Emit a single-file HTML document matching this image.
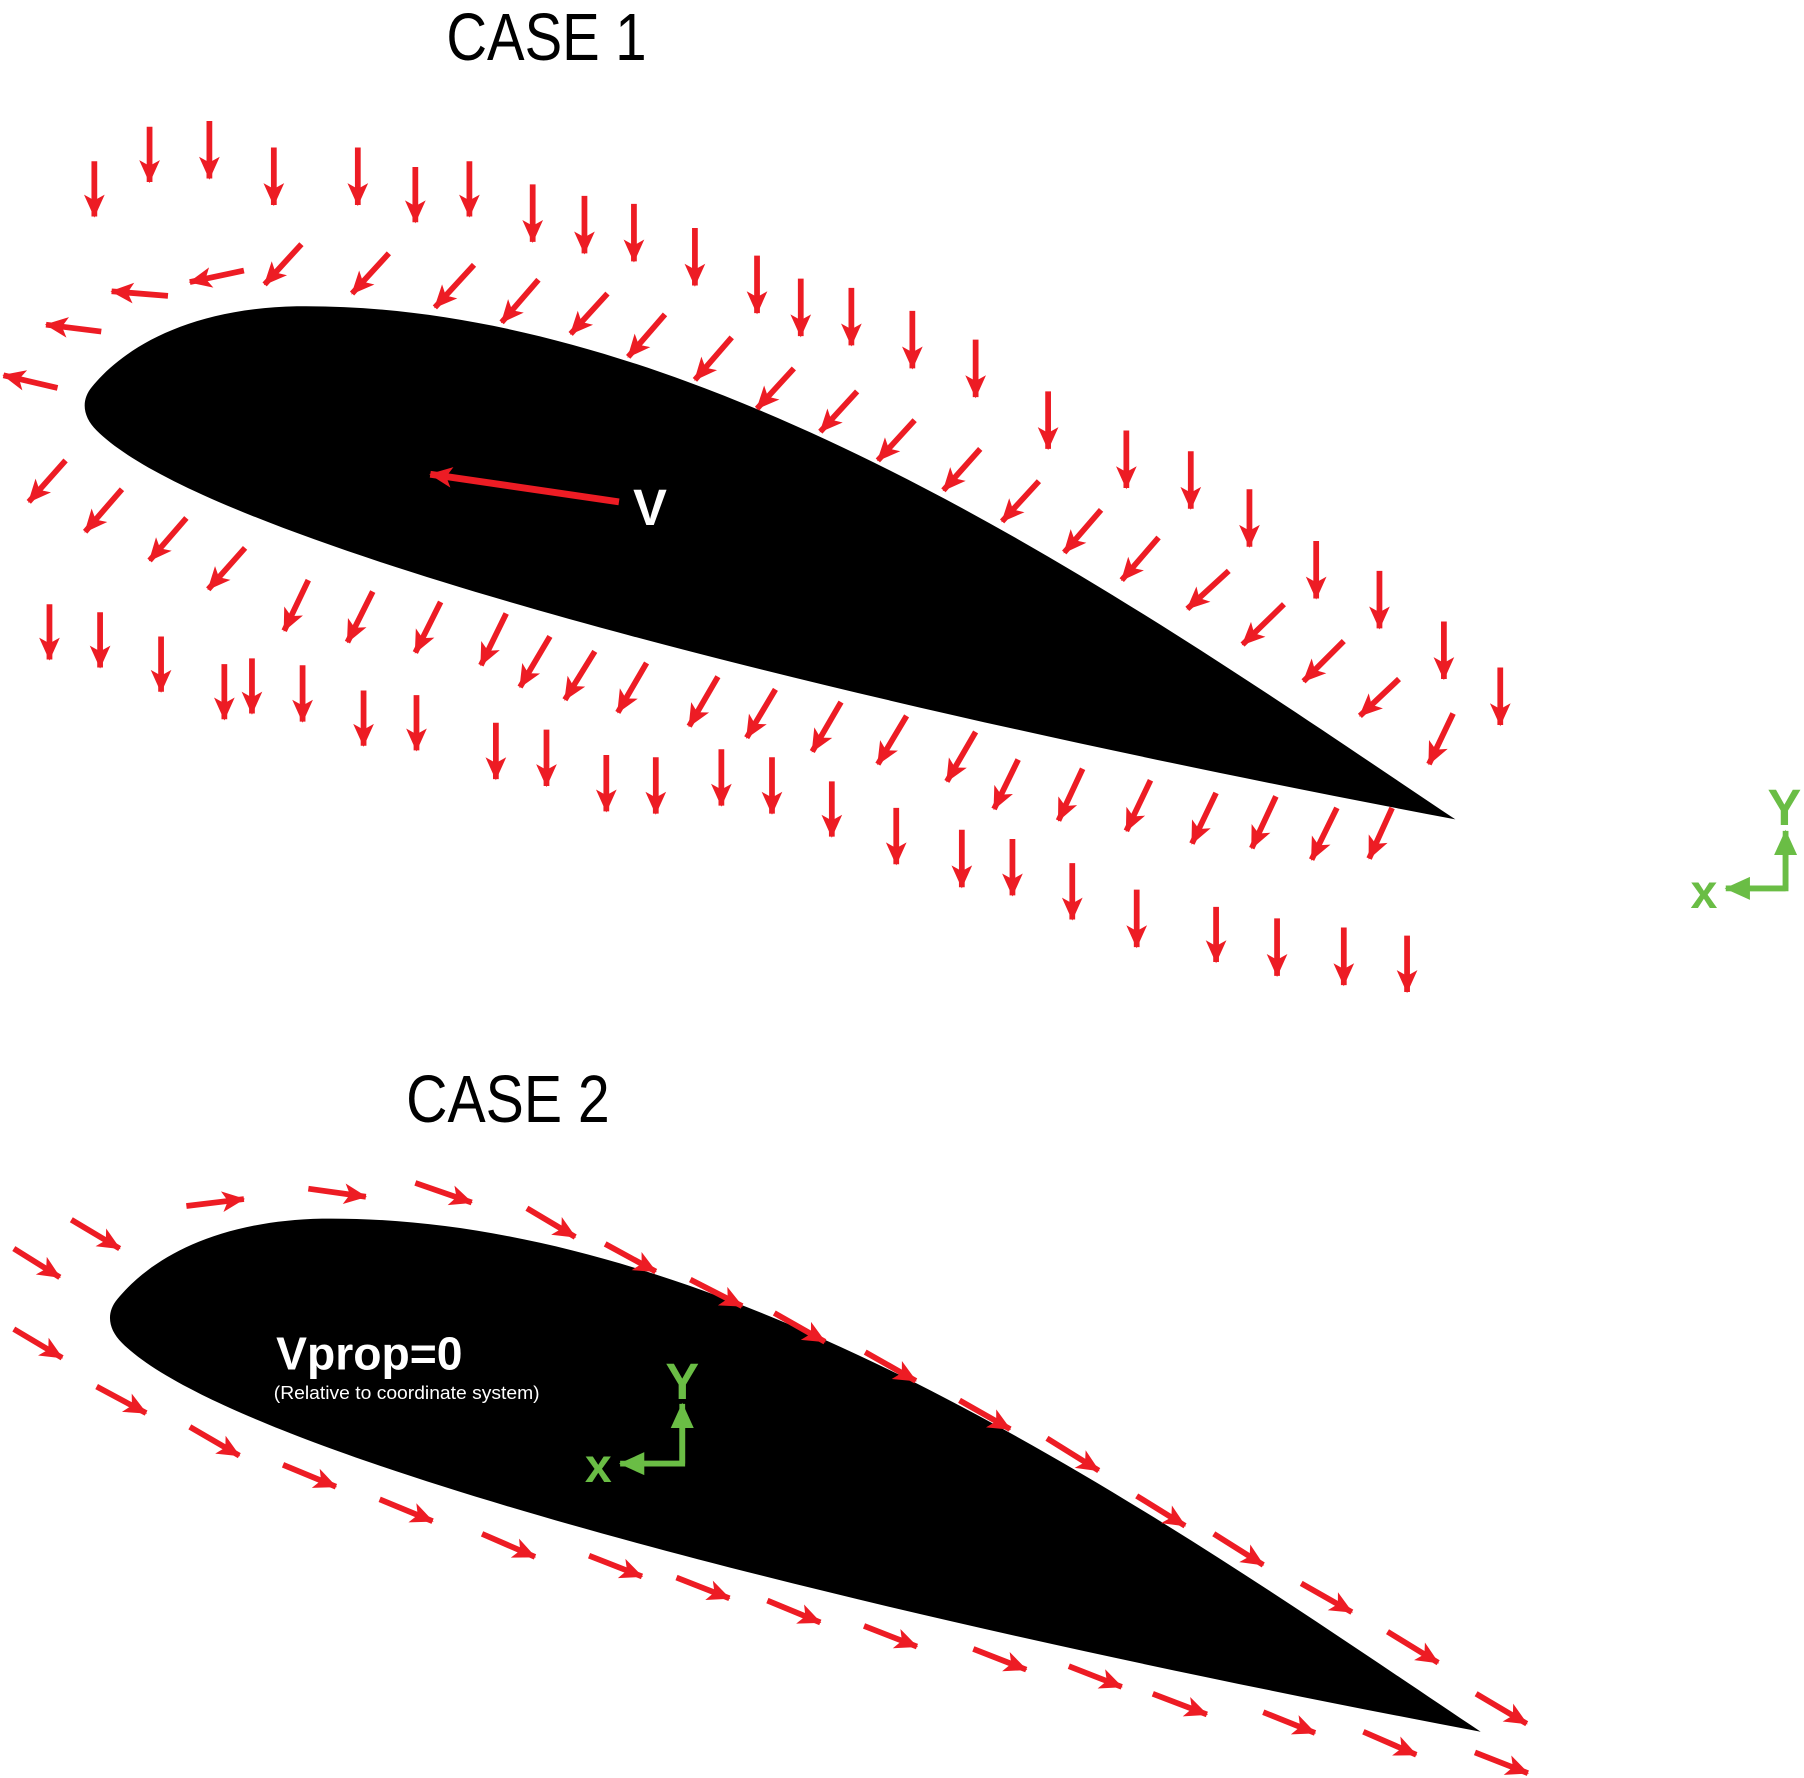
<!DOCTYPE html>
<html><head><meta charset="utf-8"><style>
html,body{margin:0;padding:0;background:#fff;}
svg{display:block;}
</style></head><body>
<svg width="1804" height="1778" viewBox="0 0 1568 1545" xmlns="http://www.w3.org/2000/svg">
<defs>
<marker id="a" markerWidth="24" markerHeight="24" refX="20" refY="12" orient="auto" markerUnits="userSpaceOnUse">
<path d="M1,3 L21,12 L1,21 L6,12 Z" fill="#ed1c24"/></marker>
<marker id="g" markerWidth="24" markerHeight="24" refX="21" refY="12" orient="auto" markerUnits="userSpaceOnUse">
<path d="M0,2 L22,12 L0,22 Z" fill="#6abd45"/></marker>
<path id="foil" d="M1265,712 C1000,535 620,262 258,266 C160,268 105,305 80,336 C70,348 72,362 84,374 C180,470 700,605 1265,712 Z"/>
</defs>
<text x="388" y="52" font-family="Liberation Sans, sans-serif" font-size="58" textLength="174" lengthAdjust="spacingAndGlyphs">CASE 1</text>
<text x="353" y="975" font-family="Liberation Sans, sans-serif" font-size="58" textLength="177" lengthAdjust="spacingAndGlyphs">CASE 2</text>
<use href="#foil"/>
<use href="#foil" transform="translate(22,793)"/>
<g stroke="#ed1c24" stroke-width="5" fill="none" marker-end="url(#a)">
<line x1="82" y1="140" x2="82" y2="188"/><line x1="130" y1="110" x2="130" y2="158"/><line x1="182" y1="105" x2="182" y2="155"/><line x1="238" y1="128" x2="238" y2="178"/><line x1="311" y1="128" x2="311" y2="178"/><line x1="361" y1="145" x2="361" y2="193"/><line x1="408" y1="140" x2="408" y2="188"/><line x1="463" y1="160" x2="463" y2="210"/><line x1="508" y1="170" x2="508" y2="220"/><line x1="551" y1="177" x2="551" y2="227"/><line x1="604" y1="198" x2="604" y2="248"/><line x1="658" y1="222" x2="658" y2="272"/><line x1="696" y1="242" x2="696" y2="292"/><line x1="740" y1="250" x2="740" y2="300"/><line x1="793" y1="270" x2="793" y2="320"/><line x1="848" y1="295" x2="848" y2="345"/><line x1="911" y1="340" x2="911" y2="390"/><line x1="979" y1="374" x2="979" y2="424"/><line x1="1035" y1="392" x2="1035" y2="442"/><line x1="1086" y1="425" x2="1086" y2="475"/><line x1="1144" y1="470" x2="1144" y2="520"/><line x1="1199" y1="496" x2="1199" y2="546"/><line x1="1255" y1="540" x2="1255" y2="590"/><line x1="1304" y1="580" x2="1304" y2="630"/>
<line x1="262" y1="212" x2="230" y2="247"/><line x1="338" y1="220" x2="306" y2="255"/><line x1="412" y1="230" x2="378" y2="267"/><line x1="468" y1="243" x2="436" y2="280"/><line x1="528" y1="255" x2="496" y2="290"/><line x1="578" y1="273" x2="546" y2="310"/><line x1="636" y1="293" x2="604" y2="330"/><line x1="690" y1="320" x2="658" y2="355"/><line x1="745" y1="340" x2="713" y2="375"/><line x1="795" y1="365" x2="763" y2="400"/><line x1="852" y1="390" x2="820" y2="426"/><line x1="903" y1="418" x2="871" y2="453"/><line x1="957" y1="443" x2="925" y2="480"/><line x1="1007" y1="467" x2="975" y2="504"/><line x1="1068" y1="496" x2="1032" y2="529"/><line x1="1116" y1="525" x2="1080" y2="560"/><line x1="1168" y1="557" x2="1133" y2="592"/><line x1="1216" y1="590" x2="1182" y2="622"/>
<line x1="212" y1="235" x2="165" y2="245"/><line x1="146" y1="257" x2="97" y2="253"/><line x1="88" y1="288" x2="40" y2="282"/><line x1="50" y1="337" x2="3" y2="326"/>
<line x1="57" y1="400" x2="25" y2="436"/><line x1="106" y1="425" x2="74" y2="462"/><line x1="162" y1="450" x2="130" y2="487"/><line x1="213" y1="476" x2="181" y2="512"/>
<line x1="268" y1="504" x2="247" y2="548"/><line x1="324" y1="514" x2="302" y2="558"/><line x1="383" y1="523" x2="361" y2="567"/><line x1="440" y1="533" x2="418" y2="578"/><line x1="478" y1="553" x2="452" y2="597"/><line x1="517" y1="566" x2="491" y2="608"/><line x1="562" y1="576" x2="537" y2="619"/><line x1="624" y1="588" x2="599" y2="631"/><line x1="674" y1="599" x2="649" y2="641"/><line x1="731" y1="610" x2="706" y2="653"/><line x1="788" y1="622" x2="763" y2="664"/><line x1="848" y1="636" x2="823" y2="679"/><line x1="885" y1="660" x2="864" y2="703"/><line x1="941" y1="668" x2="920" y2="713"/><line x1="1000" y1="678" x2="979" y2="722"/><line x1="1057" y1="689" x2="1036" y2="733"/><line x1="1109" y1="692" x2="1088" y2="737"/><line x1="1162" y1="702" x2="1140" y2="747"/><line x1="1210" y1="702" x2="1190" y2="746"/><line x1="1263" y1="620" x2="1242" y2="664"/>
<line x1="43" y1="525" x2="43" y2="573"/><line x1="87" y1="532" x2="87" y2="580"/><line x1="140" y1="553" x2="140" y2="601"/><line x1="195" y1="577" x2="195" y2="625"/><line x1="219" y1="572" x2="219" y2="620"/><line x1="263" y1="578" x2="263" y2="627"/><line x1="316" y1="600" x2="316" y2="648"/><line x1="362" y1="604" x2="362" y2="652"/><line x1="431" y1="628" x2="431" y2="677"/><line x1="475" y1="634" x2="475" y2="683"/><line x1="527" y1="656" x2="527" y2="705"/><line x1="570" y1="658" x2="570" y2="707"/><line x1="627" y1="651" x2="627" y2="700"/><line x1="671" y1="658" x2="671" y2="707"/><line x1="723" y1="679" x2="723" y2="727"/><line x1="779" y1="702" x2="779" y2="751"/><line x1="836" y1="721" x2="836" y2="771"/><line x1="880" y1="729" x2="880" y2="778"/><line x1="932" y1="750" x2="932" y2="799"/><line x1="988" y1="773" x2="988" y2="823"/><line x1="1057" y1="788" x2="1057" y2="836"/><line x1="1110" y1="798" x2="1110" y2="848"/><line x1="1168" y1="806" x2="1168" y2="856"/><line x1="1223" y1="813" x2="1223" y2="862"/>
<line x1="12" y1="1085" x2="52" y2="1110"/><line x1="62" y1="1060" x2="104" y2="1085"/><line x1="162" y1="1048" x2="212" y2="1042"/><line x1="268" y1="1033" x2="318" y2="1040"/><line x1="361" y1="1028" x2="410" y2="1045"/><line x1="458" y1="1050" x2="500" y2="1075"/><line x1="526" y1="1081" x2="570" y2="1105"/><line x1="600" y1="1112" x2="645" y2="1135"/><line x1="673" y1="1141" x2="717" y2="1166"/><line x1="752" y1="1175" x2="796" y2="1200"/><line x1="834" y1="1217" x2="878" y2="1242"/><line x1="910" y1="1250" x2="955" y2="1278"/><line x1="988" y1="1300" x2="1030" y2="1326"/><line x1="1055" y1="1333" x2="1098" y2="1360"/><line x1="1131" y1="1376" x2="1175" y2="1401"/><line x1="1206" y1="1418" x2="1250" y2="1445"/><line x1="1283" y1="1472" x2="1327" y2="1498"/>
<line x1="12" y1="1155" x2="54" y2="1180"/><line x1="84" y1="1205" x2="127" y2="1228"/><line x1="165" y1="1240" x2="208" y2="1265"/><line x1="246" y1="1273" x2="292" y2="1292"/><line x1="330" y1="1303" x2="376" y2="1322"/><line x1="419" y1="1333" x2="465" y2="1353"/><line x1="512" y1="1352" x2="558" y2="1370"/><line x1="588" y1="1371" x2="634" y2="1389"/><line x1="667" y1="1391" x2="713" y2="1410"/><line x1="751" y1="1413" x2="797" y2="1431"/><line x1="846" y1="1433" x2="892" y2="1451"/><line x1="929" y1="1448" x2="975" y2="1466"/><line x1="1002" y1="1472" x2="1049" y2="1490"/><line x1="1098" y1="1488" x2="1143" y2="1506"/><line x1="1185" y1="1505" x2="1231" y2="1525"/><line x1="1282" y1="1523" x2="1328" y2="1541"/>
</g>
<line x1="538" y1="436" x2="374" y2="412" stroke="#ed1c24" stroke-width="6" marker-end="url(#a)"/>
<text x="565" y="456" text-anchor="middle" font-family="Liberation Sans, sans-serif" font-weight="bold" font-size="44" fill="#fff">V</text>
<text x="240" y="1190" font-family="Liberation Sans, sans-serif" font-weight="bold" font-size="40" fill="#fff" textLength="162" lengthAdjust="spacingAndGlyphs">Vprop=0</text>
<text x="238" y="1216" font-family="Liberation Sans, sans-serif" font-size="16" fill="#fff" textLength="231" lengthAdjust="spacingAndGlyphs">(Relative to coordinate system)</text>
<g stroke="#6abd45" stroke-width="5" fill="none">
<polyline points="1552,740 1552,772 1520,772"/>
<line x1="1552" y1="772" x2="1552" y2="722" marker-end="url(#g)"/>
<line x1="1552" y1="772" x2="1500" y2="772" marker-end="url(#g)"/>
<polyline points="593,1240 593,1272 560,1272"/>
<line x1="593" y1="1272" x2="593" y2="1220" marker-end="url(#g)"/>
<line x1="593" y1="1272" x2="539" y2="1272" marker-end="url(#g)"/>
</g>
<g font-family="Liberation Sans, sans-serif" font-weight="bold" fill="#6abd45" text-anchor="middle">
<text x="1551" y="717" font-size="44">Y</text>
<text x="1481" y="789" font-size="42">x</text>
<text x="593" y="1216" font-size="44">Y</text>
<text x="520" y="1288" font-size="42">x</text>
</g>
</svg>
</body></html>
